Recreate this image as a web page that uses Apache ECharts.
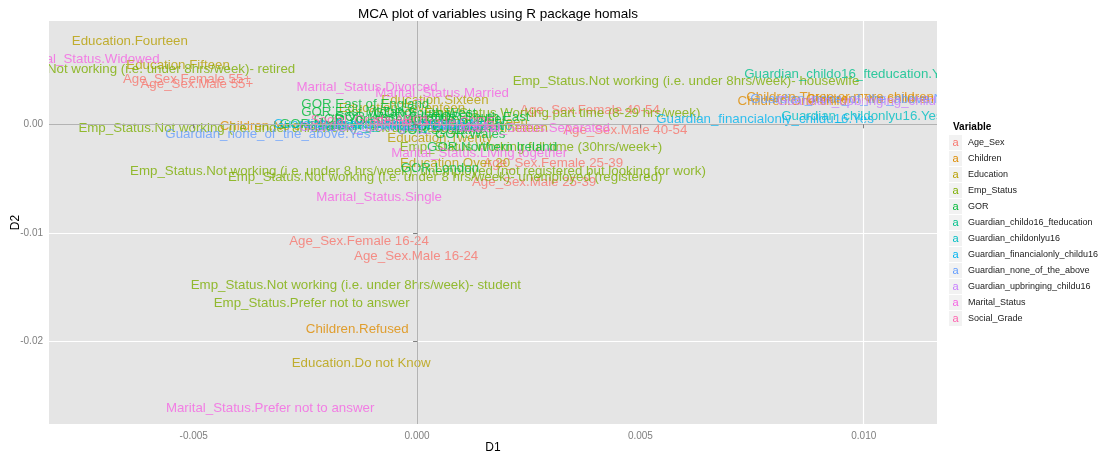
<!DOCTYPE html>
<html>
<head>
<meta charset="utf-8">
<script src="https://cdn.jsdelivr.net/npm/echarts@6/dist/echarts.min.js"></script>
<style>
  html, body { margin: 0; padding: 0; background: #fff; }
  #main { width: 1105px; height: 456px; }
</style>
</head>
<body>
<div id="main"></div>
<script>
// MCA 坐标 [D1, D2, 标签]，从图上读出来的
var ageSex = [
  [-0.00515, 0.00418, 'Age_Sex.Female 55+'],
  [-0.00493, 0.00371, 'Age_Sex.Male 55+'],
  [-0.00130, -0.01076, 'Age_Sex.Female 16-24'],
  [-0.00002, -0.01214, 'Age_Sex.Male 16-24'],
  [0.00305, -0.00357, 'Age_Sex.Female 25-39'],
  [0.00262, -0.00532, 'Age_Sex.Male 25-39'],
  [0.00466, -0.00053, 'Age_Sex.Male 40-54'],
  [0.00387, 0.00132, 'Age_Sex.Female 40-54']
];
var children = [
  [-0.00134, -0.01887, 'Children.Refused'],
  [-0.00307, -0.00016, 'Children.No children'],
  [0.00840, 0.00215, 'Children.One child'],
  [0.00947, 0.00252, 'Children.Three or more children'],
  [0.01014, 0.00233, 'Children.Two children']
];
var education = [
  [-0.00643, 0.00768, 'Education.Fourteen'],
  [-0.00535, 0.00547, 'Education.Fifteen'],
  [0.00040, 0.00224, 'Education.Sixteen'],
  [-0.00034, 0.00150, 'Education.Seventeen'],
  [0.00119, 0.00021, 'Education.Eighteen'],
  [0.00163, -0.00034, 'Education.Nineteen'],
  [0.00051, -0.00126, 'Education.Twenty'],
  [0.00085, -0.00357, 'Education.Over 20'],
  [-0.00125, -0.02200, 'Education.Do not Know']
];
var empStatus = [
  [-0.00636, 0.00510, 'Emp_Status.Not working (i.e. under 8hrs/week)- retired'],
  [-0.00137, -0.01481, 'Emp_Status.Not working (i.e. under 8hrs/week)- student'],
  [-0.00236, -0.01647, 'Emp_Status.Prefer not to answer'],
  [0.00002, -0.00430, 'Emp_Status.Not working (i.e. under 8 hrs/week)- unemployed (not registered but looking for work)'],
  [0.00063, -0.00486, 'Emp_Status.Not working (i.e. under 8 hrs/week)- unemployed (registered)'],
  [0.00602, 0.00399, 'Emp_Status.Not working (i.e. under 8hrs/week)- housewife'],
  [-0.00352, -0.00034, 'Emp_Status.Not working (i.e. under 8hrs/week)- sick/disabled'],
  [0.00325, 0.00104, 'Emp_Status.Working part time (8-29 hrs/week)'],
  [0.00255, -0.00209, 'Emp_Status.Working full time (30hrs/week+)']
];
var gor = [
  [-0.00116, 0.00187, 'GOR.East of England'],
  [0.00141, 0.00067, 'GOR.South East'],
  [0.00168, -0.00209, 'GOR.Northern Ireland'],
  [0.00051, -0.00403, 'GOR.London'],
  [-0.00128, 0.00113, 'GOR.East Midlands'],
  [-0.00049, 0.00067, 'GOR.West Midlands'],
  [-0.00195, 0.00003, 'GOR.North West'],
  [0.00085, -0.00016, 'GOR.North East'],
  [-0.00016, 0.00049, 'GOR.Yorkshire and The Humber'],
  [0.00051, -0.00053, 'GOR.Scotland'],
  [0.00119, -0.00089, 'GOR.Wales'],
  [0.00018, 0.00104, 'GOR.South West']
];
var guardianChildo16 = [
  [0.00967, 0.00464, 'Guardian_childo16_fteducation.Yes'],
  [-0.00016, -0.00016, 'Guardian_childo16_fteducation.No']
];
var guardianChildonly = [
  [0.00996, 0.00077, 'Guardian_childonlyu16.Yes'],
  [-0.00049, -0.00006, 'Guardian_childonlyu16.No']
];
var guardianFinancial = [
  [0.00779, 0.00049, 'Guardian_financialonly_childu16.Yes'],
  [-0.00083, 0.00003, 'Guardian_financialonly_childu16.No']
];
var guardianNone = [
  [-0.00334, -0.00089, 'Guardian_none_of_the_above.Yes'],
  [0.00970, 0.00233, 'Guardian_none_of_the_above.No']
];
var guardianUpbringing = [
  [0.01037, 0.00215, 'Guardian_upbringing_childu16.Yes'],
  [-0.00038, -0.00025, 'Guardian_upbringing_childu16.No']
];
var maritalStatus = [
  [-0.00737, 0.00602, 'Marital_Status.Widowed'],
  [-0.00112, 0.00344, 'Marital_Status.Divorced'],
  [0.00056, 0.00288, 'Marital_Status.Married'],
  [-0.00085, -0.00670, 'Marital_Status.Single'],
  [-0.00329, -0.02615, 'Marital_Status.Prefer not to answer'],
  [0.00139, -0.00265, 'Marital_Status.Living together'],
  [0.00264, -0.00034, 'Marital_Status.Separated']
];
var socialGrade = [
  [-0.00105, 0.00040, 'Social_Grade.ABC1'],
  [0.00040, 0.00021, 'Social_Grade.C2DE']
];

var variables = ['Age_Sex', 'Children', 'Education', 'Emp_Status', 'GOR',
  'Guardian_childo16_fteducation', 'Guardian_childonlyu16', 'Guardian_financialonly_childu16',
  'Guardian_none_of_the_above', 'Guardian_upbringing_childu16', 'Marital_Status', 'Social_Grade'];
var groups = [ageSex, children, education, empStatus, gor, guardianChildo16, guardianChildonly,
  guardianFinancial, guardianNone, guardianUpbringing, maritalStatus, socialGrade];
var palette = ['#F8766D', '#DE8C00', '#B79F00', '#7CAE00', '#00BA38', '#00C08B',
  '#00BFC4', '#00B4F0', '#619CFF', '#C77CFF', '#F564E3', '#FF64B0'];

// 刻度
var xTicks = [-0.005, 0, 0.005, 0.01];
var xMinor = [-0.0075, -0.0025, 0.0025, 0.0075];
var yTicks = [-0.02, -0.01, 0];
var yMinor = [-0.025, -0.015, -0.005, 0.005];

var gridLeft = 49, gridTop = 21, gridRight = 937, gridBottom = 424;
var font = '"Liberation Sans", Arial, sans-serif';

// 网格线用 markLine 画
var gridLines = [];
function addLine(key, v, color, width) {
  var d = { lineStyle: { color: color, width: width, type: 'solid' } };
  d[key] = v;
  gridLines.push(d);
}
xMinor.forEach(function (v) { addLine('xAxis', v, '#f2f2f2', 0.6); });
yMinor.forEach(function (v) { addLine('yAxis', v, '#f2f2f2', 0.6); });
xTicks.forEach(function (v) { addLine('xAxis', v, '#ffffff', 1.1); });
yTicks.forEach(function (v) { addLine('yAxis', v, '#ffffff', 1.1); });
addLine('xAxis', 0, '#b3b3b3', 1);
addLine('yAxis', 0, '#b3b3b3', 1);

var series = [{
  name: 'grid',
  type: 'scatter',
  data: [],
  z: 1,
  silent: true,
  markLine: {
    silent: true,
    symbol: ['none', 'none'],
    label: { show: false },
    lineStyle: { type: 'solid' },
    emphasis: { disabled: true },
    animation: false,
    data: gridLines
  }
}];

for (var i = 0; i < variables.length; i++) {
  series.push({
    name: variables[i],
    type: 'scatter',
    z: 2,
    symbolSize: 1,
    itemStyle: { color: 'transparent' },
    data: groups[i],
    label: {
      show: true,
      position: 'inside',
      formatter: function (p) { return p.value[2]; },
      color: palette[i],
      fontSize: 13.3,
      fontFamily: font
    },
    labelLayout: { hideOverlap: false }
  });
}

var legendData = [];
for (var j = 0; j < variables.length; j++) {
  legendData.push({
    name: variables[j],
    textStyle: {
      rich: {
        k: { color: palette[j], backgroundColor: '#f2f2f2', width: 13, height: 15, align: 'center',
             fontSize: 11, fontFamily: font, lineHeight: 15 },
        t: { color: '#222', fontSize: 9, fontFamily: font, padding: [0, 0, 0, 6] }
      }
    }
  });
}

var whiteBox = { fill: '#ffffff' };

var myChart = echarts.init(document.getElementById('main'));
var option = {
  animation: false,
  backgroundColor: '#ffffff',
  title: [{
    text: 'MCA plot of variables using R package homals',
    left: (gridLeft + gridRight) / 2,
    textAlign: 'center',
    top: 2,
    z: 200,
    textStyle: { fontSize: 13.5, fontWeight: 'normal', color: '#000', fontFamily: font }
  }, {
    text: 'Variable',
    left: 948,
    top: 117,
    z: 200,
    textStyle: { fontSize: 10, fontWeight: 'bold', color: '#000', fontFamily: font }
  }],
  legend: {
    orient: 'vertical',
    left: 944,
    top: 135,
    z: 200,
    padding: 0,
    icon: 'none',
    itemWidth: 0,
    itemHeight: 15,
    itemGap: 1,
    selectedMode: false,
    data: legendData,
    formatter: function (name) { return '{k|a}{t|' + name + '}'; }
  },
  graphic: [
    { type: 'rect', z: 100, silent: true, shape: { x: 0, y: 0, width: gridLeft, height: 456 }, style: whiteBox },
    { type: 'rect', z: 100, silent: true, shape: { x: gridRight, y: 0, width: 1105 - gridRight, height: 456 }, style: whiteBox },
    { type: 'rect', z: 100, silent: true, shape: { x: 0, y: 0, width: 1105, height: gridTop }, style: whiteBox },
    { type: 'rect', z: 100, silent: true, shape: { x: 0, y: gridBottom, width: 1105, height: 456 - gridBottom }, style: whiteBox }
  ],
  grid: {
    left: gridLeft,
    top: gridTop,
    width: gridRight - gridLeft,
    height: gridBottom - gridTop,
    outerBoundsMode: 'none',
    containLabel: false,
    show: true,
    backgroundColor: '#e5e5e5',
    borderWidth: 0
  },
  xAxis: {
    type: 'value',
    min: -0.00824,
    max: 0.01164,
    z: 200,
    name: 'D1',
    nameLocation: 'middle',
    nameGap: 18,
    nameMoveOverlap: false,
    nameTextStyle: { color: '#000', fontSize: 12, fontFamily: font },
    axisLine: { show: false },
    axisTick: { show: true, length: 4, customValues: xTicks, lineStyle: { color: '#7f7f7f' } },
    axisLabel: {
      customValues: xTicks,
      color: '#7f7f7f', fontSize: 10, fontFamily: font, margin: 7,
      formatter: function (v) { return v.toFixed(3); }
    },
    splitLine: { show: false }
  },
  yAxis: {
    type: 'value',
    min: -0.02762,
    max: 0.00952,
    z: 200,
    name: 'D2',
    nameLocation: 'middle',
    nameGap: 27,
    nameRotate: 90,
    nameMoveOverlap: false,
    nameTextStyle: { color: '#000', fontSize: 12, fontFamily: font },
    axisLine: { show: false },
    axisTick: { show: true, length: 4, customValues: yTicks, lineStyle: { color: '#7f7f7f' } },
    axisLabel: {
      customValues: yTicks,
      color: '#7f7f7f', fontSize: 10, fontFamily: font, margin: 6,
      formatter: function (v) { return v.toFixed(2); }
    },
    splitLine: { show: false }
  },
  series: series
};
myChart.setOption(option);
</script>
</body>
</html>
